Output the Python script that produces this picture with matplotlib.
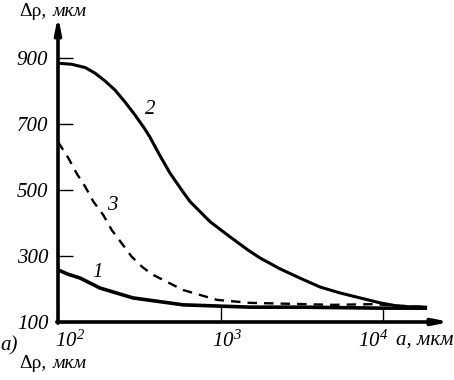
import numpy as np
import matplotlib
matplotlib.use('Agg')
import matplotlib.pyplot as plt

plt.rcParams['font.family'] = 'Liberation Serif'
plt.rcParams['mathtext.fontset'] = 'custom'
plt.rcParams['mathtext.rm'] = 'Liberation Serif:italic'
plt.rcParams['mathtext.it'] = 'Liberation Serif:italic'

# curve 2
a2 = [100, 121, 147, 169, 195, 224, 258, 298, 343, 368, 424, 489, 588, 649,
      862, 1144, 1476, 1751, 2324, 3085, 4097, 5438, 7219, 9584, 12725, 18660]
d2 = [884, 881, 871, 854, 830, 803, 767, 727, 684, 660, 604, 551, 494, 465,
      404, 358, 318, 294, 261, 233, 206, 188, 173, 158, 147, 145]
# curve 3 (dashed)
a3 = [100, 116, 130, 147, 165, 190, 214, 247, 284, 328, 377, 588, 952, 1519,
      4924, 8679, 18660]
d3 = [646, 596, 551, 510, 465, 424, 379, 338, 298, 268, 245, 197, 167, 158,
      152, 154, 145]
# curve 1
a1 = [100, 115, 137, 181, 289, 588, 1519, 3085, 9584, 18660]
d1 = [258, 245, 233, 203, 173, 152, 145, 145, 142, 142]

yticks = [100, 300, 500, 700, 900]
xticks = [100, 1000, 10000]
xticklabels = ['$10^2$', '$10^3$', '$10^4$']
xlabel_pos = [95.8, 886, 7015]   # left edge of each tick label

W, H = 454, 380
fig = plt.figure(figsize=(W / 100, H / 100), dpi=100)
ax = fig.add_axes([58 / W, (H - 322) / H, 392 / W, 300 / H])
ax.set_xscale('log')
ax.set_xlim(100, 10 ** 4.412)
ax.set_ylim(100, 1009)
for s in ax.spines.values():
    s.set_visible(False)

# axes with arrows
arrow = dict(arrowstyle='-|>,head_length=0.9,head_width=0.18', lw=2.6, color='black',
             shrinkA=0, shrinkB=0)
ax.annotate('', xy=(0, 1.02), xytext=(0, -0.004), xycoords='axes fraction', arrowprops=arrow)
ax.annotate('', xy=(1, 0), xytext=(-0.003, 0), xycoords='axes fraction', arrowprops=arrow)

ax.plot(a2, d2, color='black', lw=2.2, solid_capstyle='butt')
ax.plot(a1, d1, color='black', lw=2.6, solid_capstyle='butt')
ax.plot(a3, d3, color='black', lw=1.7, dashes=(4, 3))

ax.set_yticks(yticks)
ax.set_yticklabels([str(v) for v in yticks])
ax.set_xticks(xticks)
ax.set_xticklabels([])
ax.minorticks_off()
ax.tick_params(axis='both', direction='in', length=11, width=1, color='black')
ax.tick_params(axis='y', pad=7)
for lab in ax.get_yticklabels():
    lab.set_fontsize(15)
    lab.set_fontstyle('italic')

tr = ax.get_xaxis_transform()
for xp, lab in zip(xlabel_pos, xticklabels):
    ax.text(xp, -0.028, lab, transform=tr, fontsize=15, ha='left', va='top')

# curve numbers
ax.text(372, 745, '2', fontsize=15, style='italic', ha='center', va='center')
ax.text(215, 452, '3', fontsize=15, style='italic', ha='center', va='center')
ax.text(176, 250, '1', fontsize=15, style='italic', ha='center', va='center')

# axis titles
fig.text(19 / W, 1 - 12 / H, 'Δρ,', fontsize=14, ha='left', va='center')
fig.text(53 / W, 1 - 12 / H, 'мкм', fontsize=14, style='italic', ha='left', va='center')
fig.text(19 / W, 1 - 364 / H, 'Δρ,', fontsize=14, ha='left', va='center')
fig.text(53 / W, 1 - 364 / H, 'мкм', fontsize=14, style='italic', ha='left', va='center')
fig.text(396 / W, 1 - 340 / H, 'a, мкм', fontsize=15, style='italic', ha='left', va='center')
fig.text(0, 1 - 346 / H, 'а)', fontsize=15, style='italic', ha='left', va='center')

fig.savefig('out.png', dpi=100)
